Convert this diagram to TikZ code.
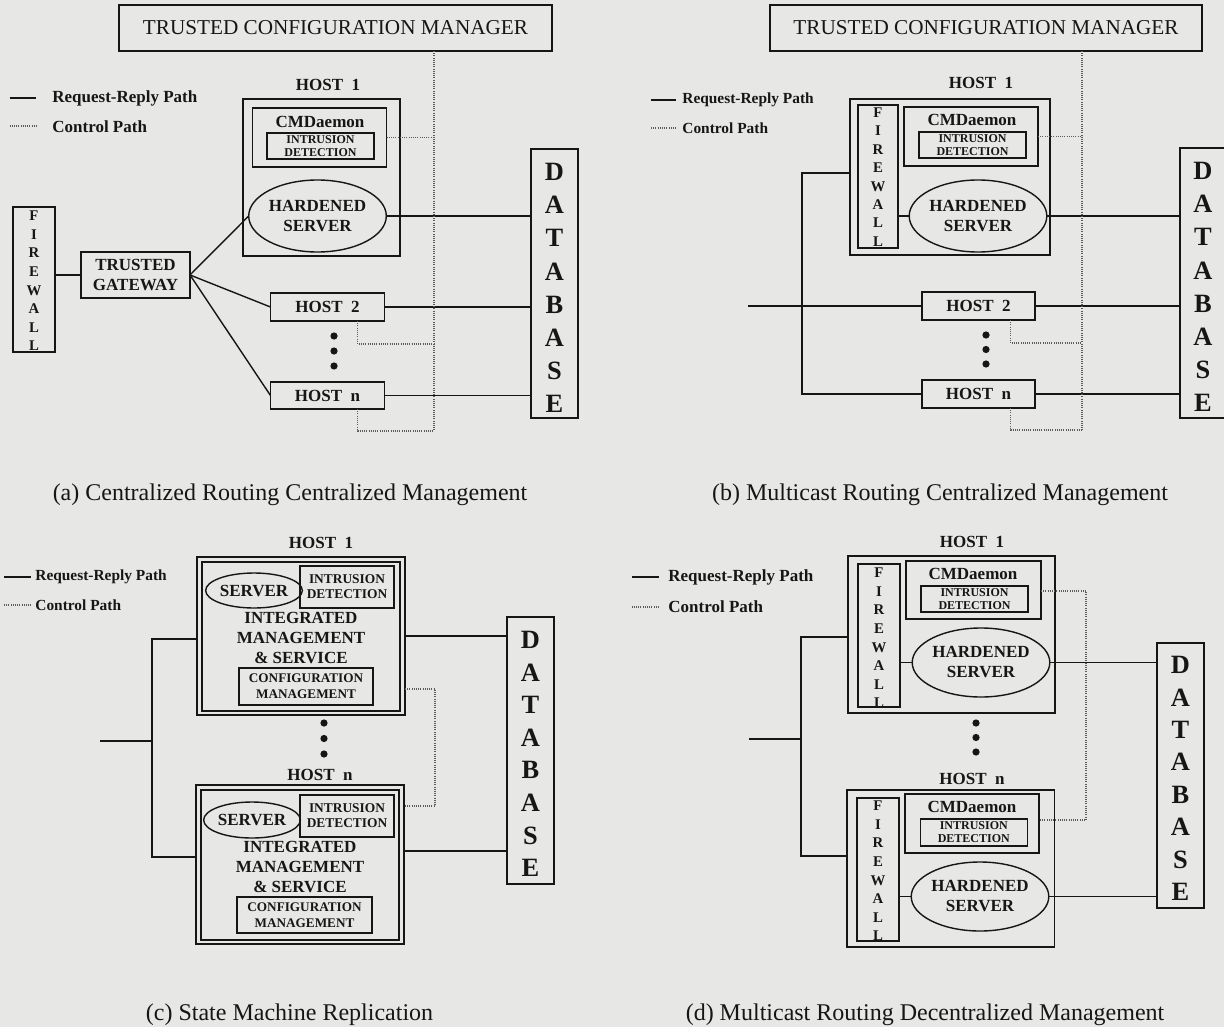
\documentclass[tikz,border=0pt]{standalone}
\usepackage{fontspec}
\setmainfont{Liberation Serif}
\usetikzlibrary{shapes.geometric}

\definecolor{paper}{RGB}{231,231,229}
\definecolor{ink}{RGB}{22,22,22}

\newcommand\dbletters{D\\A\\T\\A\\B\\A\\S\\E}
\newcommand\fwletters{F\\I\\R\\E\\W\\A\\L\\L}

\tikzset{
  box/.style={draw, line width=0.7pt, rectangle, inner sep=0pt, outer sep=0pt},
  oval/.style={draw, line width=0.7pt, ellipse, inner sep=0pt, outer sep=0pt},
  sz/.style 2 args={minimum width=#1*0.5pt, minimum height=#2*0.5pt},
  wire/.style={line width=0.7pt},
  ctl/.style={draw=ink!70, line width=0.55pt, dash pattern=on 0.5pt off 0.6pt},
  tcm/.style={font=\fontsize{10.6}{12}\selectfont},
  lbl/.style={font=\bfseries\fontsize{8.5}{10}\selectfont, inner sep=0pt, align=center},
  idtxt/.style={font=\bfseries\fontsize{6}{6.5}\selectfont, align=center},
  idtxtc/.style={font=\bfseries\fontsize{6.7}{7.5}\selectfont, align=center},
  cfgtxt/.style={font=\bfseries\fontsize{6.6}{8}\selectfont, align=center},
  legbig/.style={font=\bfseries\fontsize{8.5}{10}\selectfont, inner sep=0pt, anchor=west},
  legsmall/.style={font=\bfseries\fontsize{7.7}{9}\selectfont, inner sep=0pt, anchor=west},
  captxt/.style={font=\fontsize{12}{14}\selectfont, inner sep=0pt},
  dbtxt/.style={font=\bfseries\fontsize{13.2}{16.6}\selectfont, inner sep=0pt, align=center},
  fwtxt/.style={font=\bfseries\fontsize{7.4}{9.3}\selectfont, inner sep=0pt, align=center},
  blob/.style={circle, fill, inner sep=0pt, minimum size=3.6pt},
}

\begin{document}
\begin{tikzpicture}[x=0.5pt,y=-0.5pt,color=ink]
\fill[paper] (0,0) rectangle (1224,1027);
\useasboundingbox (0,0) rectangle (1224,1027);

% ================= (a) Centralized routing, centralized management
\node[box, sz={433}{46}, tcm] (tcmA) at (335.5,28) {TRUSTED CONFIGURATION MANAGER};
\node[lbl] (h1Albl) at (328,85) {HOST\enspace1};
\node[box, sz={157}{157}] (h1A) at (321.5,177.5) {};
\node[box, sz={134}{59}] (cmdA) at (319.5,137.5) {};
\node[lbl] (cmdAt) at (320,122) {CMDaemon};
\node[box, sz={107}{26}, idtxt] (idA) at (320.5,146) {INTRUSION\\DETECTION};
\node[oval, sz={123}{72}, lbl] (hsA) at (317.5,216) {HARDENED\\SERVER};
\node[box, sz={47}{269}] (dbA) at (554.5,283.5) {};
\node[dbtxt] (dbAt) at (554.5,288) {\dbletters};
\node[box, sz={42}{145}] (fwA) at (34,279.5) {};
\node[fwtxt] (fwAt) at (34,281) {\fwletters};
\node[box, sz={109}{46}, lbl] (gwA) at (135.5,275) {TRUSTED\\GATEWAY};
\node[box, sz={114}{28}, lbl] (h2A) at (327.5,307) {HOST\enspace2};
\node[box, sz={114}{27}, lbl] (hnA) at (327.5,395.5) {HOST\enspace n};
\node[blob] (dA1) at (334,336) {};
\node[blob] (dA2) at (334,351) {};
\node[blob] (dA3) at (334,366) {};

\draw[wire] (gwA.west -| fwA.east) -- (gwA.west);
\draw[wire] (gwA.east) -- (hsA.west);
\draw[wire] (gwA.east) -- (h2A.west);
\draw[wire] (gwA.east) -- (hnA.west);
\draw[wire] (hsA.east) -- (hsA.east -| dbA.west);
\draw[wire] (h2A.east) -- (h2A.east -| dbA.west);
\draw[wire] (hnA.east) -- (hnA.east -| dbA.west);

\coordinate (cA) at (434,431);
\coordinate (cA2) at (434,344);
\draw[ctl] (tcmA.south -| cA) -- (cA);
\draw[ctl] (cmdA.east) -- (cmdA.east -| cA);
\draw[ctl] ([xshift=15pt]h2A.south) |- (cA2);
\draw[ctl] ([xshift=15pt]hnA.south) |- (cA);

\coordinate (lgA1) at (9.5,98);  \coordinate (lgA1e) at (36,98);
\coordinate (lgA2) at (9.5,126); \coordinate (lgA2e) at (36,126);
\draw[wire] (lgA1) -- (lgA1e);
\draw[ctl] (lgA2) -- (lgA2e);
\node[legbig] (lgA1t) at (52,98) {Request-Reply Path};
\node[legbig] (lgA2t) at (52,127) {Control Path};

\node[captxt] (capA) at (290,495) {(a) Centralized Routing Centralized Management};

% ================= (b) Multicast routing, centralized management
\node[box, sz={432}{46}, tcm] (tcmB) at (986,28) {TRUSTED CONFIGURATION MANAGER};
\node[lbl] (h1Blbl) at (981,83) {HOST\enspace1};
\node[box, sz={200}{156}] (h1B) at (950,177) {};
\node[box, sz={40}{143}] (fwB) at (878,176.5) {};
\node[fwtxt, font=\bfseries\fontsize{7.4}{9.2}\selectfont] (fwBt) at (878,177) {\fwletters};
\node[box, sz={134}{59}] (cmdB) at (971,136.5) {};
\node[lbl] (cmdBt) at (972,120) {CMDaemon};
\node[box, sz={107}{26}, idtxt] (idB) at (972.5,145) {INTRUSION\\DETECTION};
\node[oval, sz={120}{72}, lbl] (hsB) at (978,216) {HARDENED\\SERVER};
\node[box, sz={47}{270}] (dbB) at (1203.5,283) {};
\node[dbtxt] (dbBt) at (1203,287) {\dbletters};
\node[box, sz={113}{28}, lbl] (h2B) at (978.5,306) {HOST\enspace2};
\node[box, sz={113}{28}, lbl] (hnB) at (978.5,394) {HOST\enspace n};
\node[blob] (dB1) at (986,335) {};
\node[blob] (dB2) at (986,349.5) {};
\node[blob] (dB3) at (986,364) {};

\coordinate (bBt) at (802,173);
\coordinate (sB) at (748,306);
\draw[wire] (bBt -| h1B.west) -- (bBt) |- (hnB.west);
\draw[wire] (sB |- h2B.west) -- (h2B.west);
\draw[wire] (hsB.west -| fwB.east) -- (hsB.west);
\draw[wire] (hsB.east) -- (hsB.east -| dbB.west);
\draw[wire] (h2B.east) -- (h2B.east -| dbB.west);
\draw[wire] (hnB.east) -- (hnB.east -| dbB.west);

\coordinate (cB) at (1082,430);
\coordinate (cB2) at (1082,343);
\draw[ctl] (tcmB.south -| cB) -- (cB);
\draw[ctl] (cmdB.east) -- (cmdB.east -| cB);
\draw[ctl] ([xshift=16pt]h2B.south) |- (cB2);
\draw[ctl] ([xshift=16pt]hnB.south) |- (cB);

\coordinate (lgB1) at (651,100); \coordinate (lgB1e) at (676,100);
\coordinate (lgB2) at (651,128); \coordinate (lgB2e) at (676,128);
\draw[wire] (lgB1) -- (lgB1e);
\draw[ctl] (lgB2) -- (lgB2e);
\node[legsmall] (lgB1t) at (682,100) {Request-Reply Path};
\node[legsmall] (lgB2t) at (682,128) {Control Path};

\node[captxt] (capB) at (940,495) {(b) Multicast Routing Centralized Management};

% ================= (c) State machine replication
\node[lbl] (h1Clbl) at (321,543) {HOST\enspace1};
\node[box, sz={208}{158}] (h1C) at (301,636) {};
\node[box, sz={198}{149}] (h1Ci) at (301,636.5) {};
\node[oval, sz={92}{35}, lbl] (srvC) at (254,590.5) {SERVER};
\node[box, sz={94}{42}, idtxtc] (idC) at (347,587) {INTRUSION\\DETECTION};
\node[lbl] (imC) at (301,638) {INTEGRATED\\MANAGEMENT\\\& SERVICE};
\node[box, sz={134}{37}, cfgtxt] (cfgC) at (306,686.5) {CONFIGURATION\\MANAGEMENT};

\node[blob] (dC1) at (324,723) {};
\node[blob] (dC2) at (324,738.5) {};
\node[blob] (dC3) at (324,754) {};

\node[lbl] (hnClbl) at (320,775) {HOST\enspace n};
\node[box, sz={208}{159}] (hnC) at (300,864.5) {};
\node[box, sz={198}{150}] (hnCi) at (300,865) {};
\node[oval, sz={90}{36}, lbl] (srvCn) at (252,820) {SERVER};
\node[box, sz={94}{42}, idtxtc] (idCn) at (347,816) {INTRUSION\\DETECTION};
\node[lbl] (imCn) at (300,867) {INTEGRATED\\MANAGEMENT\\\& SERVICE};
\node[box, sz={135}{36}, cfgtxt] (cfgCn) at (304.5,915) {CONFIGURATION\\MANAGEMENT};

\node[box, sz={47}{267}] (dbC) at (530.5,750.5) {};
\node[dbtxt, font=\bfseries\fontsize{13.2}{16.3}\selectfont] (dbCt) at (530.5,754) {\dbletters};

\coordinate (bCt) at (152,639);
\coordinate (bCb) at (152,857);
\coordinate (sC) at (100,741);
\coordinate (rCn) at (0,851);
\draw[wire] (bCt -| h1C.west) -- (bCt) -- (bCb) -- (bCb -| hnC.west);
\draw[wire] (sC) -- (sC -| bCt);
\draw[wire] (h1C.east) -- (h1C.east -| dbC.west);
\draw[wire] (rCn -| hnC.east) -- (rCn -| dbC.west);

\coordinate (cC1) at (435,689);
\coordinate (cC2) at (435,806);
\draw[ctl] (cC1 -| h1C.east) -- (cC1) -- (cC2) -- (cC2 -| hnC.east);

\coordinate (lgC1) at (4,577);  \coordinate (lgC1e) at (31,577);
\coordinate (lgC2) at (4,605);  \coordinate (lgC2e) at (31,605);
\draw[wire] (lgC1) -- (lgC1e);
\draw[ctl] (lgC2) -- (lgC2e);
\node[legsmall] (lgC1t) at (35,577) {Request-Reply Path};
\node[legsmall] (lgC2t) at (35,605) {Control Path};

\node[captxt] (capC) at (289.5,1015) {(c) State Machine Replication};

% ================= (d) Multicast routing, decentralized management
\node[lbl] (h1Dlbl) at (972,542) {HOST\enspace1};
\node[box, sz={207}{157}] (h1D) at (951.5,634.5) {};
\node[box, sz={42}{143}] (fwD) at (879,635.5) {};
\node[fwtxt] (fwDt) at (879,638) {\fwletters};
\node[box, sz={135}{58}] (cmdD) at (973.5,590) {};
\node[lbl] (cmdDt) at (973,574) {CMDaemon};
\node[box, sz={107}{26}, idtxt] (idD) at (974.5,599) {INTRUSION\\DETECTION};
\node[oval, sz={122}{69}, lbl] (hsD) at (981,662.5) {HARDENED\\SERVER};

\node[blob] (dD1) at (976,723) {};
\node[blob] (dD2) at (976,737.5) {};
\node[blob] (dD3) at (976,752) {};

\node[lbl] (hnDlbl) at (972,779) {HOST\enspace n};
\node[box, sz={207.5}{157}] (hnD) at (950.75,868.5) {};
\node[box, sz={42}{143}] (fwDn) at (878,869.5) {};
\node[fwtxt] (fwDnt) at (878,871) {\fwletters};
\node[box, sz={134}{59}] (cmdDn) at (972,823.5) {};
\node[lbl] (cmdDnt) at (972,807) {CMDaemon};
\node[box, sz={107}{27}, idtxt] (idDn) at (973.75,832.5) {INTRUSION\\DETECTION};
\node[oval, sz={120}{69}, lbl] (hsDn) at (980,896.5) {HARDENED\\SERVER};

\node[box, sz={47}{265}] (dbD) at (1180.5,775.5) {};
\node[dbtxt, font=\bfseries\fontsize{13.2}{16.2}\selectfont] (dbDt) at (1180.5,778.5) {\dbletters};

\coordinate (bDt) at (801,637);
\coordinate (bDb) at (801,856);
\coordinate (sD) at (749,739);
\draw[wire] (bDt -| h1D.west) -- (bDt) -- (bDb) -- (bDb -| hnD.west);
\draw[wire] (sD) -- (sD -| bDt);
\draw[wire] (hsD.west -| fwD.east) -- (hsD.west);
\draw[wire] (hsD.east) -- (hsD.east -| dbD.west);
\draw[wire] (hsDn.west -| fwDn.east) -- (hsDn.west);
\draw[wire] (hsDn.east) -- (hsDn.east -| dbD.west);

\coordinate (cD1) at (1086,591);
\coordinate (cD2) at (1086,820);
\draw[ctl] (cD1 -| cmdD.east) -- (cD1) -- (cD2) -- (cD2 -| cmdDn.east);

\coordinate (lgD1) at (631.5,577); \coordinate (lgD1e) at (658.5,577);
\coordinate (lgD2) at (631.5,607); \coordinate (lgD2e) at (658.5,607);
\draw[wire] (lgD1) -- (lgD1e);
\draw[ctl] (lgD2) -- (lgD2e);
\node[legbig] (lgD1t) at (668,577) {Request-Reply Path};
\node[legbig] (lgD2t) at (668,607) {Control Path};

\node[captxt] (capD) at (925,1015) {(d) Multicast Routing Decentralized Management};
\end{tikzpicture}
\end{document}
